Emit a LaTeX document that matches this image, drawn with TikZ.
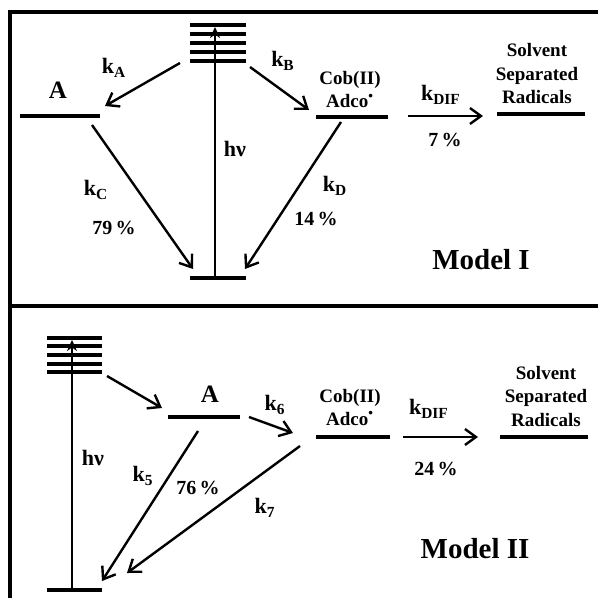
\documentclass[tikz,border=0pt]{standalone}
\usepackage{fontspec}
\setmainfont{Liberation Serif}
\usetikzlibrary{arrows.meta}
\tikzset{
  level/.style={line width=1.6pt},
  rate/.style={line width=1.2pt, -{Straight Barb[length=5.5pt,width=8pt,line width=1.2pt]}},
  pump/.style={line width=0.9pt, -{Stealth[length=5.5pt,width=5pt]}},
  small/.style={font=\bfseries\fontsize{9.5}{11.5}\selectfont, align=center, inner sep=0pt},
  klab/.style={font=\bfseries\fontsize{11}{13}\selectfont, inner sep=0pt},
  pct/.style={font=\bfseries\fontsize{10}{12}\selectfont, inner sep=0pt},
  state/.style={font=\bfseries\fontsize{12.5}{15}\selectfont, inner sep=0pt},
  model/.style={font=\bfseries\fontsize{14.5}{17}\selectfont, inner sep=0pt},
}
\newcommand{\rk}[1]{k\textsubscript{#1}}
\begin{document}
\begin{tikzpicture}[x=0.5pt, y=-0.5pt]
  \useasboundingbox (0,0) rectangle (598,598);
  % Khung
  \draw[line width=1.6pt] (600,12) -- (10,12) -- (10,600);
  \draw[line width=1.9pt] (10,306) -- (600,306);

  % Model I: muc nang luong
  \foreach \y in {25,34,43,52,61}
    \draw[level] (190,\y) -- (246,\y);
  \draw[level] (190,278) -- (246,278);
  \draw[level] (20,116) -- (100,116);
  \draw[level] (316,117) -- (388,117);
  \draw[level] (497,114) -- (585,114);

  % Model I: diem dau, diem cuoi
  \coordinate (g1) at (215,278);
  \coordinate (t1) at (215,27);
  \coordinate (a1s) at (180,63);  \coordinate (a1e) at (105,106);
  \coordinate (b1s) at (250,67);  \coordinate (b1e) at (309,110);
  \coordinate (c1s) at (92,125);  \coordinate (c1e) at (193,269);
  \coordinate (d1s) at (341,122); \coordinate (d1e) at (245,269);
  \coordinate (f1s) at (408,116); \coordinate (f1e) at (483,116);

  % Model I: mui ten
  \draw[pump] (g1) -- (t1);
  \draw[rate] (a1s) -- (a1e);
  \draw[rate] (b1s) -- (b1e);
  \draw[rate] (c1s) -- (c1e);
  \draw[rate] (d1s) -- (d1e);
  \draw[rate] (f1s) -- (f1e);

  % Model I: nhan
  \node[state] (A1) at (58,90) {A};
  \node[klab] (hv1) at (235,149) {hν};
  \node[klab] (kA) at (114,68) {\rk{A}};
  \node[klab] (kB) at (283,61) {\rk{B}};
  \node[klab] (kC) at (96,190) {\rk{C}};
  \node[pct] (p79) at (114,228) {79\,\%};
  \node[klab] (kD) at (335,186) {\rk{D}};
  \node[pct] (p14) at (316,219) {14\,\%};
  \node[small] (cob1) at (350,90) {Cob(II)\\Adco\textsuperscript{•}};
  \node[klab] (kF1) at (441,95) {\rk{DIF}};
  \node[pct] (p7) at (445,140) {7\,\%};
  \node[small, font=\bfseries\fontsize{9.5}{11.75}\selectfont] (ssr1) at (537,74) {Solvent\\Separated\\Radicals};
  \node[model] (m1) at (481,260) {Model I};

  % Model II: muc nang luong
  \foreach \y in {338,346,355,364,372}
    \draw[level] (47,\y) -- (102,\y);
  \draw[level] (47,590) -- (102,590);
  \draw[level] (168,417) -- (240,417);
  \draw[level] (316,437) -- (390,437);
  \draw[level] (500,437) -- (588,437);

  % Model II: diem dau, diem cuoi
  \coordinate (g2) at (72,590);
  \coordinate (t2) at (72,340);
  \coordinate (e2s) at (107,376); \coordinate (e2e) at (162,408);
  \coordinate (k6s) at (249,417); \coordinate (k6e) at (293,433);
  \coordinate (k5s) at (198,431); \coordinate (k5e) at (102,581);
  \coordinate (k7s) at (300,446); \coordinate (k7e) at (127,573);
  \coordinate (f2s) at (403,437); \coordinate (f2e) at (478,437);

  % Model II: mui ten
  \draw[pump] (g2) -- (t2);
  \draw[rate] (e2s) -- (e2e);
  \draw[rate] (k6s) -- (k6e);
  \draw[rate] (k5s) -- (k5e);
  \draw[rate] (k7s) -- (k7e);
  \draw[rate] (f2s) -- (f2e);

  % Model II: nhan
  \node[state] (A2) at (210,394) {A};
  \node[klab] (hv2) at (93,458) {hν};
  \node[klab] (k6) at (275,405) {\rk{6}};
  \node[klab] (k5) at (143,476) {\rk{5}};
  \node[pct] (p76) at (198,488) {76\,\%};
  \node[klab] (k7) at (265,508) {\rk{7}};
  \node[small] (cob2) at (350,407) {Cob(II)\\Adco\textsuperscript{•}};
  \node[klab] (kF2) at (429,409) {\rk{DIF}};
  \node[pct] (p24) at (436,469) {24\,\%};
  \node[small, font=\bfseries\fontsize{9.5}{11.75}\selectfont] (ssr2) at (546,396) {Solvent\\Separated\\Radicals};
  \node[model] (m2) at (475,549) {Model II};
\end{tikzpicture}
\end{document}
